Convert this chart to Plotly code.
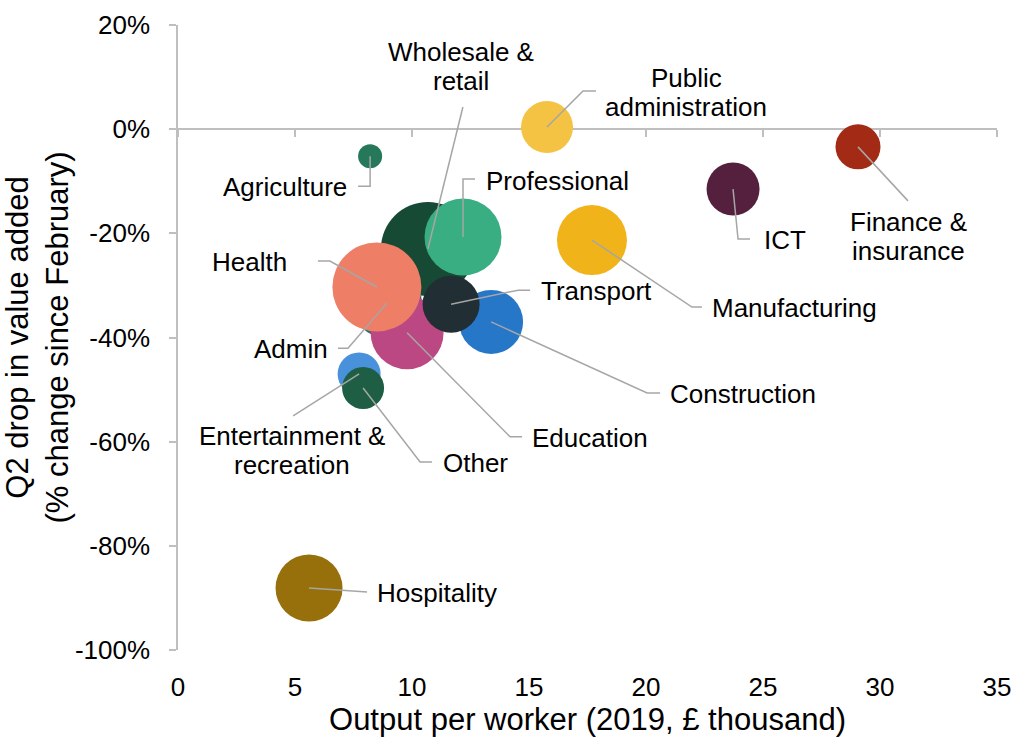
import plotly.graph_objects as go

# bubble data
sectors = ["Agriculture", "Public administration", "Finance & insurance", "ICT",
           "Manufacturing", "Wholesale & retail", "Admin", "Professional",
           "Construction", "Education", "Transport", "Health",
           "Entertainment & recreation", "Other", "Hospitality"]
output_per_worker = [8.21, 15.77, 29.06, 23.72, 17.69, 10.68, 8.93, 12.18,
                     13.38, 9.79, 11.67, 8.50, 7.74, 7.91, 5.60]
q2_drop = [-5.2, 0.4, -3.4, -11.5, -21.3, -23.0, -33.4, -20.7,
           -37.0, -39.1, -33.6, -30.3, -47.0, -49.7, -88.1]
bubble_size = [24, 52, 45, 53, 70, 94, 70, 77, 64, 73, 57, 89, 43, 42, 67]
colors = ["#26785a", "#f4c343", "#a32a14", "#54203d", "#f0b31a", "#174a34",
          "#2b6f7e", "#38ae82", "#2777c8", "#bc4883", "#212e34", "#ee7e66",
          "#4a91dc", "#1e5e44", "#976f0b"]

y_ticks = [20, 0, -20, -40, -60, -80, -100]
y_ticktext = ["20%", "0%", "-20%", "-40%", "-60%", "-80%", "-100%"]

# label lines, text offset (px, screen coords) and leader path (px from bubble centre)
label_lines = {
    "Agriculture": ["Agriculture"],
    "Public administration": ["Public", "administration"],
    "Finance & insurance": ["Finance &", "insurance"],
    "ICT": ["ICT"],
    "Manufacturing": ["Manufacturing"],
    "Wholesale & retail": ["Wholesale &", "retail"],
    "Admin": ["Admin"],
    "Professional": ["Professional"],
    "Construction": ["Construction"],
    "Education": ["Education"],
    "Transport": ["Transport"],
    "Health": ["Health"],
    "Entertainment & recreation": ["Entertainment &", "recreation"],
    "Other": ["Other"],
    "Hospitality": ["Hospitality"],
}
label_offset = {
    "Agriculture": (-85, 31), "Public administration": (139, -35),
    "Finance & insurance": (50, 90), "ICT": (52, 51), "Manufacturing": (203, 68),
    "Wholesale & retail": (33, -182), "Admin": (-96, 46), "Professional": (94, -56),
    "Construction": (252, 72), "Education": (183, 105), "Transport": (145, -13),
    "Health": (-127, -25), "Entertainment & recreation": (-67, 77),
    "Other": (112, 75), "Hospitality": (128, 5),
}
leaders = {
    "Agriculture": [(0, 0), (0, 30), (-12, 30)],
    "Public administration": [(0, 0), (36, -36), (49, -36)],
    "Finance & insurance": [(0, 0), (50, 54)],
    "ICT": [(0, 0), (5, 50), (17, 50)],
    "Manufacturing": [(0, 0), (100, 67), (110, 67)],
    "Wholesale & retail": [(0, 0), (35, -142)],
    "Admin": [(0, 0), (-39, 45), (-49, 45)],
    "Professional": [(0, 0), (0, -58), (12, -58)],
    "Construction": [(0, 0), (156, 71), (169, 71)],
    "Education": [(0, 0), (103, 104), (115, 104)],
    "Transport": [(0, 0), (67, -14), (79, -14)],
    "Health": [(0, 0), (-47, -26), (-59, -26)],
    "Entertainment & recreation": [(0, 0), (-66, 42)],
    "Other": [(0, 0), (57, 74), (69, 74)],
    "Hospitality": [(0, 0), (58, 4)],
}

FONT = "Liberation Sans, Arial, sans-serif"
GREY = "#bfbfbf"
LEADER = "#a6a6a6"

fig = go.Figure()
fig.add_trace(go.Scatter(
    x=output_per_worker, y=q2_drop, mode="markers",
    marker=dict(size=bubble_size, sizemode="diameter", sizeref=1,
                color=colors, opacity=1, line=dict(width=0)),
    hovertext=sectors, showlegend=False))
# dummy trace so the zero-line axis gets drawn
fig.add_trace(go.Scatter(x=[None], y=[None], xaxis="x2", showlegend=False))

annotations = []
shapes = []
for i, name in enumerate(sectors):
    x, y = output_per_worker[i], q2_drop[i]
    dx, dy = label_offset[name]
    lines = label_lines[name]
    n = len(lines)
    for k, line in enumerate(lines):
        shift = (k - (n - 1) / 2) * 29
        annotations.append(dict(
            x=x, y=y, xref="x", yref="y", text=line, showarrow=False,
            xshift=dx, yshift=-(dy + shift),
            font=dict(family=FONT, size=26, color="#000000")))
    pts = leaders[name]
    path = "M" + " L".join(f"{px},{-py}" for px, py in pts)
    shapes.append(dict(type="path", xref="x", yref="y", xsizemode="pixel",
                       ysizemode="pixel", xanchor=x, yanchor=y, path=path,
                       line=dict(color=LEADER, width=1.5), layer="above"))

fig.update_layout(
    width=1014, height=746,
    margin=dict(l=178, r=17, t=25, b=96),
    paper_bgcolor="white", plot_bgcolor="white",
    font=dict(family=FONT, size=26, color="#000000"),
    annotations=annotations, shapes=shapes,
    xaxis=dict(range=[0, 35], dtick=5, showgrid=False, zeroline=False,
               showline=False, ticks="outside", ticklen=14,
               tickcolor="rgba(0,0,0,0)", automargin=False,
               ticklabeloverflow="allow",
               title=dict(text="Output per worker (2019, £ thousand)", standoff=7),
               tickfont=dict(size=26, color="#000000")),
    xaxis2=dict(overlaying="x", matches="x", anchor="free", position=100 / 120,
                side="bottom", showline=True, linecolor=GREY, linewidth=1.5,
                ticks="outside", ticklen=7, tickcolor=GREY, tickwidth=1.5,
                dtick=5, showticklabels=False, showgrid=False, zeroline=False,
                layer="below traces", automargin=False),
    yaxis=dict(range=[-100, 20], tickvals=y_ticks, ticktext=y_ticktext,
               showgrid=False, zeroline=False, showline=True, linecolor=GREY,
               linewidth=1.5, ticks="outside", ticklen=7, tickcolor=GREY,
               tickwidth=1.5, ticklabelstandoff=14, layer="below traces",
               automargin=False,
               title=dict(text="Q2 drop in value added<br>(% change since February)",
                          standoff=0),
               tickfont=dict(size=26, color="#000000")),
)

# drop the default page margin so the figure fills the window exactly
fig.write_html("out.html", config={"displayModeBar": False},
               post_script="document.body.style.margin='0';"
                           "document.body.style.overflow='hidden';")
